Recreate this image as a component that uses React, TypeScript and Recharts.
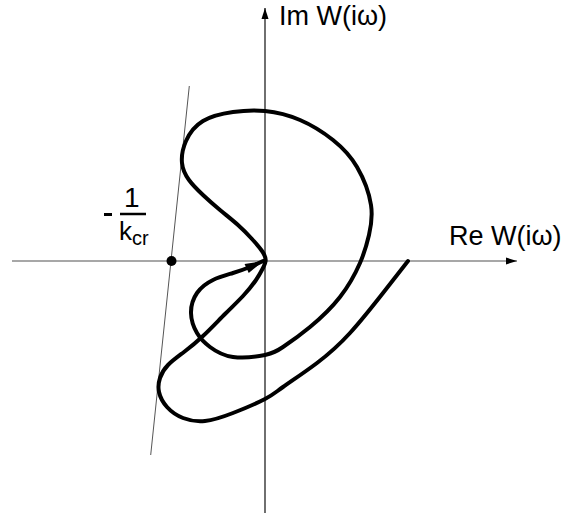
import React from "react";
import { ComposedChart, Line, XAxis, YAxis, ReferenceLine, ReferenceDot } from "recharts";

/* Nyquist hodograph W(iω) (units: 1 = 100 px) */
const CURVE_RE = [
  1.43, 1.18, 0.85, 0.52, 0.18, 0.0, -0.32, -0.6, -0.82, -0.98, -1.06, -1.05, -0.97, -0.81, -0.62,
  -0.4, -0.22, -0.09, -0.02, 0.007, -0.03, -0.13, -0.27, -0.45, -0.62, -0.76, -0.83, -0.79, -0.62,
  -0.32, 0.0, 0.35, 0.68, 0.92, 1.06, 1.04, 0.95, 0.75, 0.45, 0.18, 0.0, -0.32, -0.55, -0.68, -0.74,
  -0.68, -0.52, -0.32, -0.15, -0.02,
];
const CURVE_IM = [
  0.0, -0.32, -0.72, -1.02, -1.26, -1.38, -1.52, -1.6, -1.57, -1.46, -1.31, -1.17, -1.04, -0.91, -0.75,
  -0.53, -0.35, -0.19, -0.07, 0.01, 0.1, 0.22, 0.36, 0.51, 0.66, 0.81, 0.98, 1.2, 1.4, 1.49, 1.5, 1.41,
  1.21, 0.94, 0.56, 0.26, -0.02, -0.36, -0.66, -0.86, -0.94, -0.96, -0.86, -0.72, -0.52, -0.32, -0.19,
  -0.12, -0.06, 0.0,
];

// axis extents
const RE_AXIS = [-2.53, 2.52];
const IM_AXIS = [-2.52, 2.53];

// Popov line and the critical point -1/k_cr
const POPOV_RE = [-0.757, -1.143];
const POPOV_IM = [1.75, -1.94];
const CRITICAL_RE = -0.935;

const X_DOMAIN = [-2.65, 3.0];
const Y_DOMAIN = [-2.56, 2.61];

const curve = CURVE_RE.map((x, i) => ({ x, y: CURVE_IM[i] }));

const FONT = "'Liberation Sans', Arial, Helvetica, sans-serif";

function arrowHead(angle: number, len: number, half: number) {
  return (p: any) => {
    const { cx, cy } = p;
    return (
      <polygon
        points={`${cx},${cy} ${cx - len},${cy - half} ${cx - len},${cy + half}`}
        fill="#000"
        transform={`rotate(${angle} ${cx} ${cy})`}
      />
    );
  };
}

// direction of the curve at its end (both axes share 100 px per unit)
const n = curve.length;
const endAngle =
  (Math.atan2(-(curve[n - 1].y - curve[n - 2].y), curve[n - 1].x - curve[n - 2].x) * 180) / Math.PI;

export default function App() {
  return (
    <div style={{ position: "absolute", left: 0, top: 0, background: "#fff" }}>
      <ComposedChart width={565} height={517} margin={{ top: 0, right: 0, bottom: 0, left: 0 }}>
        <XAxis type="number" dataKey="x" domain={X_DOMAIN} hide allowDataOverflow />
        <YAxis type="number" dataKey="y" domain={Y_DOMAIN} hide allowDataOverflow />

        <ReferenceLine
          segment={[{ x: RE_AXIS[0], y: 0 }, { x: RE_AXIS[1], y: 0 }]}
          stroke="#8a8a8a"
          strokeWidth={1.5}
        />
        <ReferenceLine
          segment={[{ x: 0, y: IM_AXIS[0] }, { x: 0, y: IM_AXIS[1] }]}
          stroke="#222"
          strokeWidth={1.3}
        />
        <ReferenceLine
          segment={[{ x: POPOV_RE[0], y: POPOV_IM[0] }, { x: POPOV_RE[1], y: POPOV_IM[1] }]}
          stroke="#555"
          strokeWidth={1}
        />
        <ReferenceDot x={RE_AXIS[1]} y={0} shape={arrowHead(0, 11, 3.5)} />
        <ReferenceDot x={0} y={IM_AXIS[1]} shape={arrowHead(-90, 11, 3.5)} />

        <Line
          data={curve}
          dataKey="y"
          type="natural"
          stroke="#000"
          strokeWidth={4}
          dot={false}
          activeDot={false}
          strokeLinecap="round"
          isAnimationActive={false}
        />
        <ReferenceDot
          x={CURVE_RE[n - 1]}
          y={CURVE_IM[n - 1]}
          shape={arrowHead(endAngle, 18, 5)}
        />
        <ReferenceDot x={CRITICAL_RE} y={0} r={5} fill="#000" stroke="none" />

        <text x={279} y={25} fontFamily={FONT} fontSize={27} fill="#000">
          Im W(iω)
        </text>
        <text x={449} y={245} fontFamily={FONT} fontSize={27} fill="#000">
          Re W(iω)
        </text>
        <line x1={104} y1={214.5} x2={112} y2={214.5} stroke="#000" strokeWidth={3} />
        <text x={124} y={207} fontFamily={FONT} fontSize={28} fill="#000">
          1
        </text>
        <line x1={120} y1={214} x2={146} y2={214} stroke="#000" strokeWidth={2.5} />
        <text x={119} y={240} fontFamily={FONT} fontSize={26} fill="#000">
          k
          <tspan fontSize={20} dy={5}>
            cr
          </tspan>
        </text>
      </ComposedChart>
    </div>
  );
}
